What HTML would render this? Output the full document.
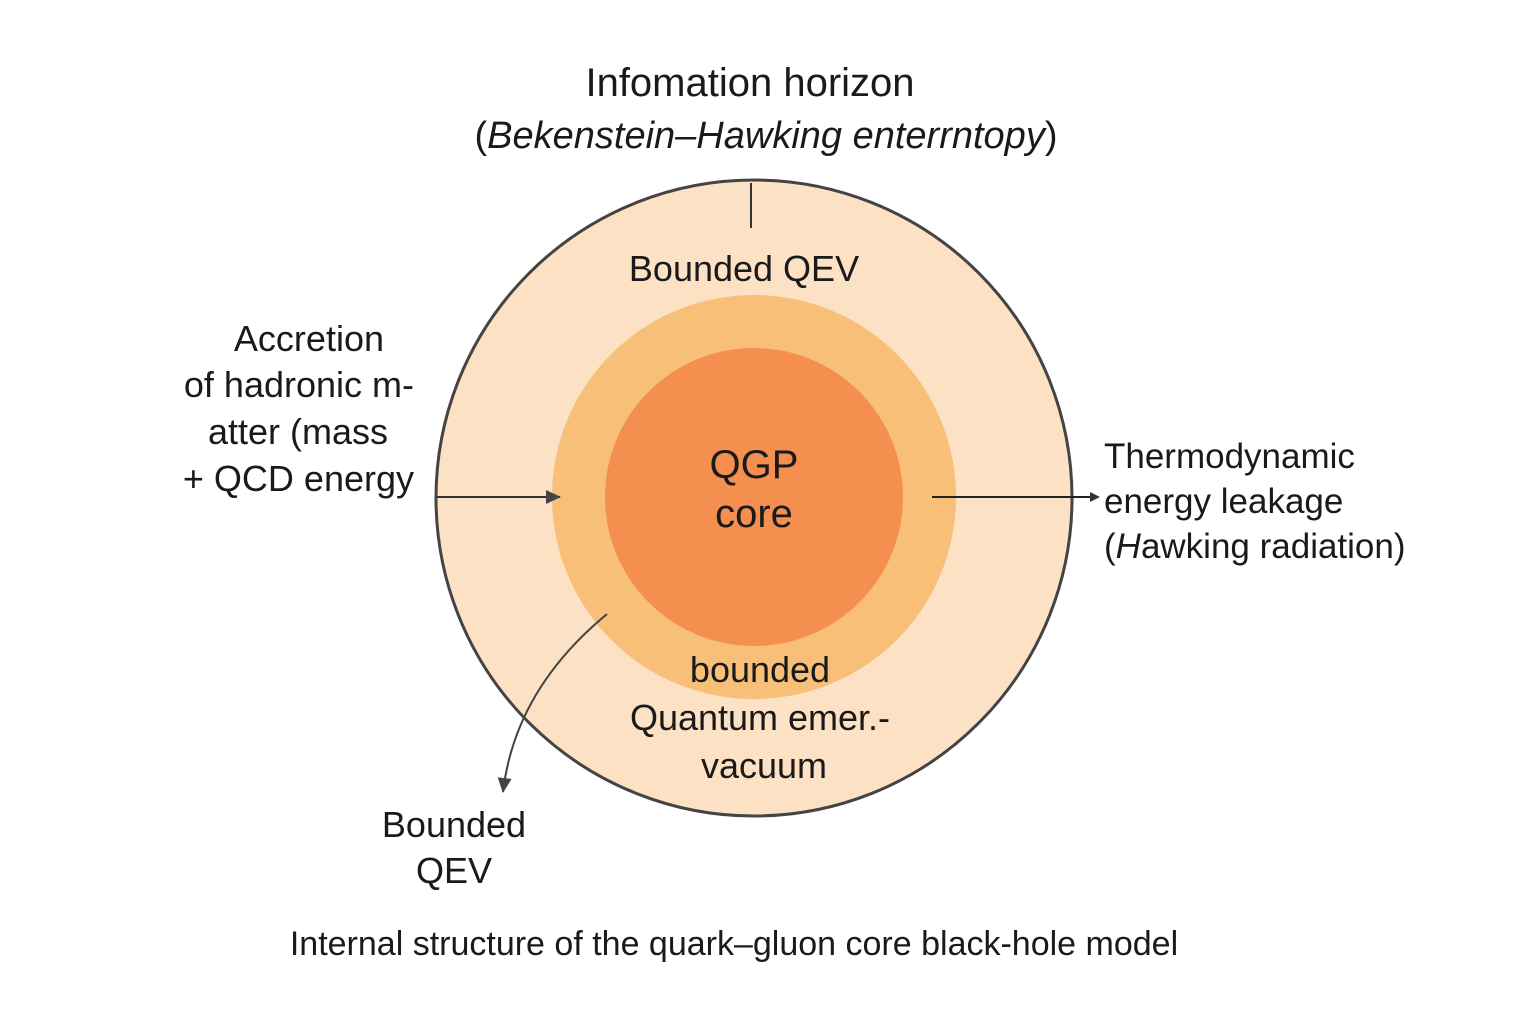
<!DOCTYPE html>
<html><head><meta charset="utf-8"><style>
html,body{margin:0;padding:0;background:#fff;}
svg{display:block;}
text{font-family:"Liberation Sans","DejaVu Sans",sans-serif;fill:#1a1a1a;}
</style></head><body>
<svg width="1536" height="1024" viewBox="0 0 1536 1024" xmlns="http://www.w3.org/2000/svg">
<defs>
<marker id="ah" markerWidth="10" markerHeight="10" refX="8" refY="5" orient="auto" markerUnits="userSpaceOnUse">
<path d="M0,0 L10,5 L0,10 z" fill="#333"/></marker>
<marker id="ah2" markerWidth="16" markerHeight="16" refX="14" refY="8" orient="auto" markerUnits="userSpaceOnUse">
<path d="M0,1 L15,8 L0,15 z" fill="#444"/></marker>
</defs>
<circle cx="754" cy="498" r="318" fill="#fce1c4" stroke="#444" stroke-width="3"/>
<circle cx="754" cy="497" r="202" fill="#f7bf78"/>
<circle cx="754" cy="497" r="149" fill="#f48f50"/>
<line x1="751" y1="183" x2="751" y2="228" stroke="#333" stroke-width="2"/>
<text x="750" y="96" font-size="40" text-anchor="middle">Infomation horizon</text>
<text x="766" y="148" font-size="38" text-anchor="middle">(<tspan font-style="italic">Bekenstein–Hawking enterrntopy</tspan>)</text>
<text x="744" y="281" font-size="36" text-anchor="middle">Bounded QEV</text>
<text x="754" y="478" font-size="40" text-anchor="middle">QGP</text>
<text x="754" y="527" font-size="40" text-anchor="middle">core</text>
<text x="760" y="682" font-size="36" text-anchor="middle">bounded</text>
<text x="760" y="730" font-size="36" text-anchor="middle">Quantum emer.-</text>
<text x="764" y="778" font-size="36" text-anchor="middle">vacuum</text>
<text x="384" y="351" font-size="36" text-anchor="end">Accretion</text>
<text x="414" y="397" font-size="36" text-anchor="end">of hadronic m-</text>
<text x="388" y="444" font-size="36" text-anchor="end">atter (mass</text>
<text x="414" y="491" font-size="36" text-anchor="end">+ QCD energy</text>
<line x1="437" y1="497" x2="560" y2="497" stroke="#333" stroke-width="2" marker-end="url(#ah2)"/>
<line x1="932" y1="497" x2="1098" y2="497" stroke="#222" stroke-width="2" marker-end="url(#ah)"/>
<text x="1104" y="468" font-size="35">Thermodynamic</text>
<text x="1104" y="513" font-size="35">energy leakage</text>
<text x="1104" y="558" font-size="35">(<tspan font-style="italic">H</tspan>awking radiation)</text>
<path d="M607,614 Q515,690 503,792" fill="none" stroke="#444" stroke-width="2" marker-end="url(#ah2)"/>
<text x="454" y="837" font-size="36" text-anchor="middle">Bounded</text>
<text x="454" y="883" font-size="36" text-anchor="middle">QEV</text>
<text x="734" y="955" font-size="34" text-anchor="middle">Internal structure of the quark–gluon core black-hole model</text>
</svg>
</body></html>
